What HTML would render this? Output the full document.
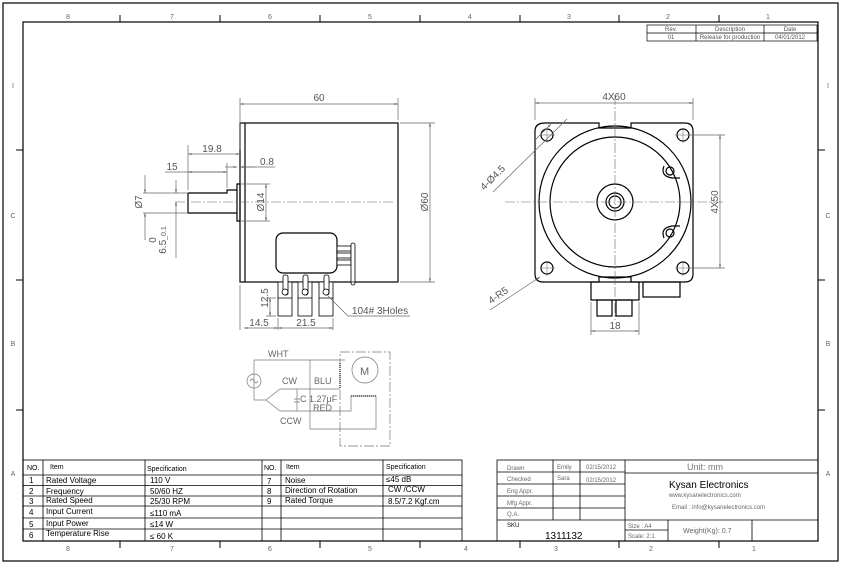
<!DOCTYPE html>
<html><head><meta charset="utf-8"><style>
html,body{margin:0;padding:0;background:#fff;}
svg{display:block;font-family:"Liberation Sans",sans-serif;}
.t{font-size:7px;fill:#000}
.d{font-size:10px;fill:#555}
.g{stroke:#666;stroke-width:0.7;fill:none}
.k{stroke:#000;stroke-width:1.2;fill:none}
.c{stroke:#666;stroke-width:0.6;fill:none;stroke-dasharray:10 2 2 2}
</style></head><body>
<svg width="841" height="564" viewBox="0 0 841 564">
<defs>
<marker id="a" viewBox="0 0 10 10" refX="10" refY="5" markerWidth="7" markerHeight="5" orient="auto-start-reverse"><path d="M0,2L10,5L0,8z" fill="#666"/></marker>
</defs>
<rect x="3" y="3" width="835" height="558" fill="none" stroke="#000" stroke-width="1.2"/>
<rect x="23" y="22" width="795" height="519" fill="none" stroke="#000" stroke-width="1.2"/>
<g stroke="#000" stroke-width="1">
<path d="M120,15V22M220,15V22M320,15V22M420,15V22M520,15V22M619,15V22M719,15V22"/>
<path d="M120,541V548M220,541V548M320,541V548M420,541V548M520,541V548M619,541V548M719,541V548"/>
<path d="M16,150H23M16,280H23M16,410H23M818,150H825M818,280H825M818,410H825"/>
</g>
<g class="t" fill="#666" style="font-size:7px;fill:#666" text-anchor="middle">
<text x="68" y="19">8</text><text x="172" y="19">7</text><text x="270" y="19">6</text><text x="370" y="19">5</text><text x="470" y="19">4</text><text x="569" y="19">3</text><text x="668" y="19">2</text><text x="768" y="19">1</text>
<text x="68" y="551">8</text><text x="172" y="551">7</text><text x="270" y="551">6</text><text x="370" y="551">5</text><text x="466" y="551">4</text><text x="556" y="551">3</text><text x="651" y="551">2</text><text x="754" y="551">1</text>
<text x="13" y="88">I</text><text x="13" y="218">C</text><text x="13" y="346">B</text><text x="13" y="476">A</text>
<text x="828" y="88">I</text><text x="828" y="218">C</text><text x="828" y="346">B</text><text x="828" y="476">A</text>
</g>
<!-- revision table -->
<g stroke="#000" stroke-width="0.7" fill="none">
<rect x="647" y="25" width="170" height="16"/><path d="M647,33H817M696,25V41M764,25V41"/>
</g>
<g style="font-size:6px;fill:#555" text-anchor="middle">
<text x="671" y="31">Rev.</text><text x="730" y="31">Description</text><text x="790" y="31">Date</text>
<text x="671" y="39">01</text><text x="730" y="39">Release for production</text><text x="790" y="39">04/01/2012</text>
</g>

<!-- side view -->
<rect x="240" y="123" width="158" height="159" class="k"/>
<path d="M245,123V282" class="k"/>
<path d="M237,184H240V221H237Z" class="k"/>
<path d="M188,193H227V190H237M188,213H237M188,193V213" class="k"/>
<path d="M175,202H395" class="c"/>
<rect x="276" y="233" width="61" height="40" rx="7" class="k"/>
<g fill="#fff" stroke="#000" stroke-width="0.8">
<rect x="337" y="246" width="14" height="5"/><rect x="337" y="253" width="14" height="5"/><rect x="337" y="260" width="14" height="5"/>
<rect x="351" y="243" width="4" height="42" rx="2"/>
<rect x="278" y="282" width="14" height="34"/><rect x="298" y="282" width="14" height="34"/><rect x="319" y="282" width="14" height="34"/>
<rect x="283" y="275" width="5" height="20" rx="2"/><rect x="303" y="275" width="5" height="20" rx="2"/><rect x="324" y="275" width="5" height="20" rx="2"/>
<circle cx="285" cy="292" r="3"/><circle cx="305" cy="292" r="3"/><circle cx="326" cy="292" r="3"/>
</g>
<path d="M278,298H292M298,298H312M319,298H333M343,282H372" stroke="#000" stroke-width="0.8"/>
<!-- side dims -->
<g class="g">
<path d="M240,120V98M398,120V98" /><path d="M240,104H398" marker-start="url(#a)" marker-end="url(#a)"/>
<path d="M400,123H435M400,282H435"/><path d="M430,123V282" marker-start="url(#a)" marker-end="url(#a)"/>
<path d="M188,190V145M240,150V120"/><path d="M188,154H240" marker-start="url(#a)" marker-end="url(#a)"/>
<path d="M227,188V163"/><path d="M165,172H227" /><path d="M188,172H227" marker-start="url(#a)" marker-end="url(#a)"/>
<path d="M225,167H237" marker-end="url(#a)"/><path d="M255,167H240" marker-end="url(#a)"/><path d="M240,167H275"/>
<path d="M240,184H270M240,221H270"/><path d="M266,184V221" marker-start="url(#a)" marker-end="url(#a)"/>
<path d="M143,193H188M143,213H188"/><path d="M145,175V193" marker-end="url(#a)"/><path d="M145,240V213" marker-end="url(#a)"/>
<path d="M176,180V193" marker-end="url(#a)"/><path d="M176,258V202" marker-end="url(#a)"/>
<path d="M240,285V330M278,318V330M333,318V330M266,298H276M266,316H276"/>
<path d="M270,298V316" marker-start="url(#a)" marker-end="url(#a)"/>
<path d="M244,328H278" marker-start="url(#a)" marker-end="url(#a)"/>
<path d="M278,328H333" marker-start="url(#a)" marker-end="url(#a)"/>
<path d="M328,296L348,316H410"/>
</g>
<g class="d" text-anchor="middle">
<text x="319" y="101">60</text><text x="212" y="152">19.8</text><text x="172" y="170">15</text><text x="267" y="165">0.8</text>
<text x="259" y="326">14.5</text><text x="306" y="326">21.5</text><text x="380" y="314">104#  3Holes</text>
<text transform="translate(428,202) rotate(-90)">Ø60</text>
<text transform="translate(264,202) rotate(-90)">Ø14</text>
<text transform="translate(142,202) rotate(-90)">Ø7</text>
<text transform="translate(268,298) rotate(-90)">12.5</text>
<text transform="translate(156,240) rotate(-90)">0</text>
<text transform="translate(166,240) rotate(-90)">6.5<tspan font-size="7" dy="0">_0.1</tspan></text>
</g>

<!-- front view -->
<path d="M545,123H599V128H631V123H685Q693,123 693,131V274Q693,282 685,282H631V277H599V282H543Q535,282 535,274V131Q535,123 545,123Z" class="k"/>
<circle cx="615" cy="202" r="76" class="k" stroke-width="0.9"/>
<circle cx="615" cy="202" r="65" class="k" stroke-width="0.9"/>
<circle cx="615" cy="202" r="18" class="k" stroke-width="0.9"/>
<circle cx="615" cy="202" r="9" class="k" stroke-width="1.5"/>
<circle cx="615" cy="202" r="6" class="k" stroke-width="0.8"/>
<g class="k" stroke-width="0.9">
<circle cx="547" cy="135" r="6"/><circle cx="683" cy="135" r="6"/><circle cx="547" cy="268" r="6"/><circle cx="683" cy="268" r="6"/>
<circle cx="670" cy="171" r="4"/><circle cx="670" cy="233" r="4"/>
<path d="M664,166Q660,176 672,178L680,178M664,238Q660,228 672,226L680,226"/>
</g>
<path d="M505,202H725M615,95V320" class="c"/>
<path d="M540,135H555M547,128V143M675,135H690M683,128V143M540,268H555M547,261V276M675,268H690M683,261V276" stroke="#666" stroke-width="0.5"/>
<rect x="591" y="282" width="48" height="18" class="k" stroke-width="1"/>
<rect x="643" y="282" width="37" height="15" class="k" stroke-width="1"/>
<rect x="597" y="300" width="15" height="16" class="k" stroke-width="1"/>
<rect x="616" y="300" width="16" height="16" class="k" stroke-width="1"/>
<g class="g">
<path d="M535,120V98M693,120V98"/><path d="M535,103H693" marker-start="url(#a)" marker-end="url(#a)"/>
<path d="M690,135H725M690,268H725"/><path d="M720,135V268" marker-start="url(#a)" marker-end="url(#a)"/>
<path d="M591,302V335M639,302V335"/><path d="M591,331H639" marker-start="url(#a)" marker-end="url(#a)"/>
<path d="M493,192L567,119"/><path d="M535,140L551,124" marker-end="url(#a)"/>
<path d="M490,310L540,277" marker-end="url(#a)"/>
</g>
<g class="d" text-anchor="middle">
<text x="614" y="100">4X60</text><text x="615" y="329">18</text>
<text transform="translate(718,202) rotate(-90)">4X50</text>
<text transform="translate(495,180) rotate(-45)">4-Ø4.5</text>
<text transform="translate(500,298) rotate(-35)">4-R5</text>
</g>

<!-- circuit -->
<g stroke="#777" stroke-width="0.7" fill="none">
<path d="M254,360V400M254,360H345M254,400H266L280,389M266,400L280,411"/>
<circle cx="254" cy="381" r="7"/>
<path d="M250,381q2,-4 4,0t4,0"/>
<path d="M280,389H340M280,411H351V396H376V429H310V360"/>
<path d="M297,389V411M294,399H300M294,402H300"/>
<path d="M340,363V389" stroke-dasharray="1 1" stroke-width="2"/>
<circle cx="365" cy="370" r="13"/>
<path d="M340,352H390V446H340V352" stroke-dasharray="10 2 2 2"/>
<path d="M351,396H376" stroke-dasharray="1 1" stroke-width="2"/>
</g>
<g style="font-size:9px;fill:#666">
<text x="268" y="357">WHT</text><text x="282" y="384">CW</text><text x="314" y="384">BLU</text>
<text x="300" y="402">C</text><text x="309" y="402">1.27μF</text><text x="313" y="411">RED</text>
<text x="280" y="424">CCW</text><text x="360" y="375" font-size="11">M</text>
</g>

<!-- spec table -->
<g stroke="#000" stroke-width="0.8" fill="none">
<rect x="23" y="460" width="439" height="81"/>
<path d="M23,475H462M23,485.5H462M23,496H462M23,506H462M23,518H462M23,529H462"/>
<path d="M43,460V541M145,460V541M262,460V541M281,460V541M383,460V541"/>
</g>
<g style="font-size:8px;fill:#000">
<text x="27" y="470" font-size="7">NO.</text><text x="50" y="469" font-size="7">Item</text><text x="147" y="471" font-size="7">Specification</text>
<text x="264" y="470" font-size="7">NO.</text><text x="286" y="469" font-size="7">Item</text><text x="386" y="469" font-size="7">Specification</text>
<text x="29" y="483">1</text><text x="46" y="483">Rated Voltage</text><text x="150" y="483">110 V</text>
<text x="29" y="494">2</text><text x="46" y="494">Frequency</text><text x="150" y="494">50/60 HZ</text>
<text x="29" y="504">3</text><text x="46" y="503">Rated Speed</text><text x="150" y="504">25/30 RPM</text>
<text x="29" y="515">4</text><text x="46" y="514">Input Current</text><text x="150" y="516">≤110 mA</text>
<text x="29" y="527">5</text><text x="46" y="526">Input Power</text><text x="150" y="527">≤14 W</text>
<text x="29" y="538">6</text><text x="46" y="536">Temperature Rise</text><text x="150" y="539">≤ 60 K</text>
<text x="267" y="484">7</text><text x="285" y="483">Noise</text><text x="386" y="482">≤45 dB</text>
<text x="267" y="494">8</text><text x="285" y="493">Direction of Rotation</text><text x="388" y="492">CW /CCW</text>
<text x="267" y="504">9</text><text x="285" y="503">Rated Torque</text><text x="388" y="504">8.5/7.2 Kgf.cm</text>
</g>

<!-- title block -->
<g stroke="#000" stroke-width="0.8" fill="none">
<rect x="497" y="460" width="321" height="81"/>
<path d="M497,472H625M497,484H625M497,496H625M497,508H625M497,520H818M625,473H818M625,530H668"/>
<path d="M553,460V520M580,460V520M625,460V541M668,520V541M752,520V541"/>
</g>
<g style="font-size:6px;fill:#666">
<text x="507" y="470">Drawn</text><text x="557" y="469">Emily</text><text x="586" y="469">02/15/2012</text>
<text x="507" y="481">Checked</text><text x="557" y="480">Sara</text><text x="586" y="482">02/15/2012</text>
<text x="507" y="493">Eng Appr.</text><text x="507" y="505">Mfg Appr.</text><text x="507" y="516">Q.A.</text>
<text x="628" y="528">Size : A4</text><text x="628" y="538">Scale: 2:1</text>
<text x="669" y="482" style="font-size:6px"> </text>
<text x="669" y="497">www.kysanelectronics.com</text>
<text x="672" y="509">Email : info@kysanelectronics.com</text>
</g>
<text x="705" y="470" style="font-size:9px;fill:#777" text-anchor="middle">Unit: mm</text>
<text x="669" y="488" style="font-size:10px;fill:#000">Kysan Electronics</text>
<text x="683" y="533" style="font-size:7px;fill:#666">Weight(Kg): 0.7</text>
<text x="507" y="527" style="font-size:6px;fill:#000">SKU</text>
<text x="545" y="539" style="font-size:10px;fill:#000">1311132</text>
</svg>
</body></html>
